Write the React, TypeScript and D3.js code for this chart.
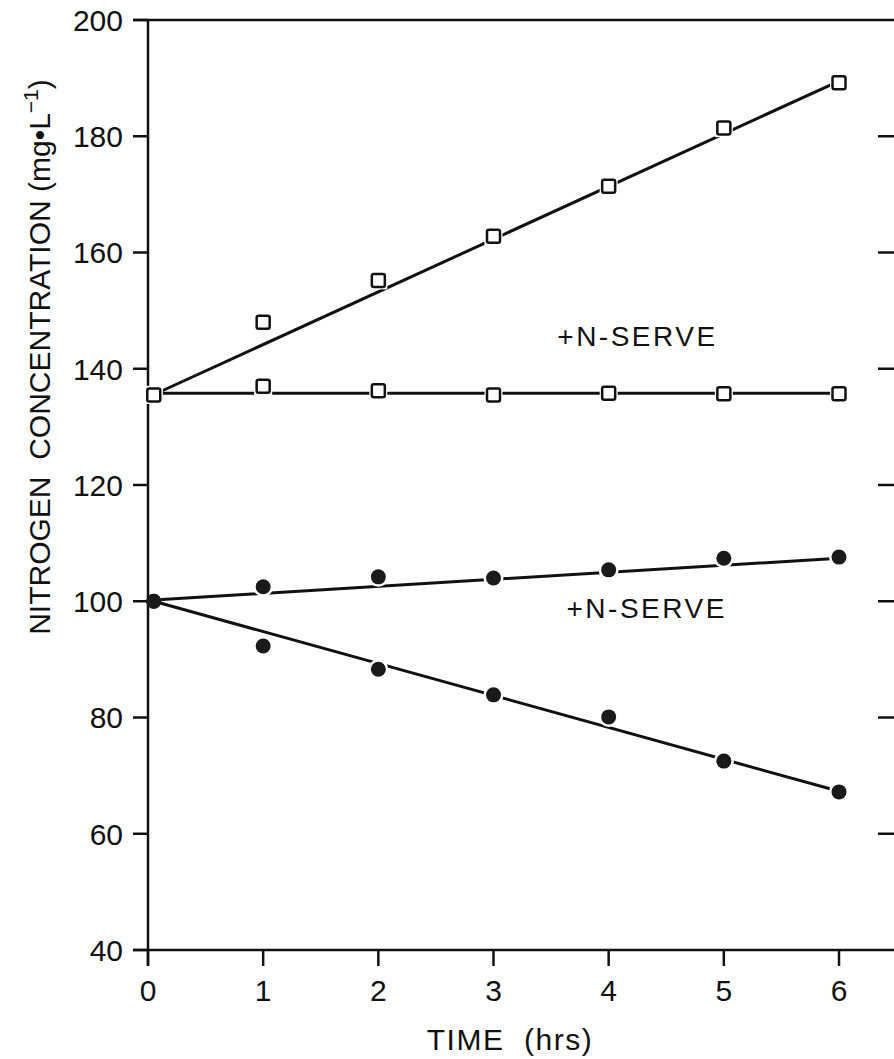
import React from "react";
import * as d3 from "d3";

// ---- data ----
const markerTimes = [0.05, 1, 2, 3, 4, 5, 6];
const xTicks = [0, 1, 2, 3, 4, 5, 6];
const yTicks = [40, 60, 80, 100, 120, 140, 160, 180, 200];
const squaresRising = [135.5, 148.0, 155.2, 162.8, 171.4, 181.4, 189.2];
const squaresServe = [135.5, 137.0, 136.2, 135.5, 135.8, 135.7, 135.7];
const circlesServe = [100.0, 102.5, 104.2, 104.0, 105.4, 107.4, 107.6];
const circlesFalling = [100.0, 92.3, 88.3, 83.9, 80.1, 72.5, 67.2];
// fitted line end points [time, value]
const fitSquaresRising: [number, number][] = [[0.1, 136.0], [6, 189.5]];
const fitSquaresServe: [number, number][] = [[0.1, 135.8], [6, 135.8]];
const fitCirclesServe: [number, number][] = [[0.12, 100.3], [6, 107.4]];
const fitCirclesFalling: [number, number][] = [[0.05, 100.0], [6, 67.3]];
const labels = [
  { text: "+N-SERVE", t: 4.25, v: 144.0 },
  { text: "+N-SERVE", t: 4.33, v: 97.2 },
];

const W = 894;
const H = 1059;
const FONT = "'Liberation Sans', Arial, Helvetica, sans-serif";

export default function App() {
  const x = d3.scaleLinear().domain([0, 6]).range([148, 839]);
  const y = d3.scaleLinear().domain([40, 200]).range([950, 20]);
  const line = d3
    .line<[number, number]>()
    .x((d) => x(d[0]))
    .y((d) => y(d[1]));

  const left = x(0);
  const bottom = y(40);
  const top = y(200);
  const rightAxis = 896;
  const ink = "#111";

  const sq = 13;
  const fits = [fitSquaresRising, fitSquaresServe, fitCirclesServe, fitCirclesFalling];

  return (
    <svg
      width={W}
      height={H}
      viewBox={`0 0 ${W} ${H}`}
      style={{ position: "absolute", left: 0, top: 0, background: "#fff" }}
    >
      <rect x={0} y={0} width={W} height={H} fill="#fff" />
      {/* frame */}
      <g stroke={ink} strokeWidth={2.5} fill="none">
        <line x1={left - 15} x2={W + 5} y1={top} y2={top} />
        <line x1={left - 15} x2={W + 5} y1={bottom} y2={bottom} />
        <line x1={left} x2={left} y1={top} y2={bottom + 16} />
        {yTicks.map((t) => (
          <line key={"l" + t} x1={left - 15} x2={left} y1={y(t)} y2={y(t)} />
        ))}
        {yTicks
          .filter((t) => t !== 40 && t !== 200)
          .map((t) => (
            <line key={"r" + t} x1={rightAxis - 18} x2={rightAxis} y1={y(t)} y2={y(t)} />
          ))}
        {xTicks.map((t) => (
          <line key={"x" + t} x1={x(t)} x2={x(t)} y1={bottom} y2={bottom + 16} />
        ))}
      </g>
      {/* tick labels */}
      <g fill={ink} fontFamily={FONT} fontSize={30}>
        {yTicks.map((t) => (
          <text key={"yl" + t} x={123} y={y(t)} dy="0.36em" textAnchor="end">
            {t}
          </text>
        ))}
        {xTicks.map((t) => (
          <text key={"xl" + t} x={x(t)} y={1001} textAnchor="middle">
            {t}
          </text>
        ))}
      </g>
      {/* axis titles */}
      <text
        x={510}
        y={1050}
        textAnchor="middle"
        fontFamily={FONT}
        fontSize={30}
        letterSpacing={1.5}
        fill={ink}
      >
        {"TIME\u00A0 (hrs)"}
      </text>
      <text
        transform={`translate(50, 357) rotate(-90)`}
        textAnchor="middle"
        fontFamily={FONT}
        fontSize={30}
        fill={ink}
      >
        {"NITROGEN\u00A0 CONCENTRATION\u00A0(mg\u2022L"}
        <tspan dy={-12} fontSize={21}>{"\u2212"}1</tspan>
        <tspan dy={12}>)</tspan>
      </text>
      {/* fitted lines */}
      <g stroke={ink} strokeWidth={3} fill="none" strokeLinecap="round">
        {fits.map((f, i) => (
          <path key={"f" + i} d={line(f) || ""} />
        ))}
      </g>
      {/* square markers */}
      <g>
        {[squaresRising, squaresServe].map((s, si) =>
          s.map((v, i) => (
            <g key={`s${si}-${i}`}>
              <rect
                x={x(markerTimes[i]) - sq / 2 - 2.5}
                y={y(v) - sq / 2 - 2.5}
                width={sq + 5}
                height={sq + 5}
                fill="#fff"
              />
              <rect
                x={x(markerTimes[i]) - sq / 2}
                y={y(v) - sq / 2}
                width={sq}
                height={sq}
                rx={2}
                fill="#fff"
                stroke={ink}
                strokeWidth={2.5}
              />
            </g>
          ))
        )}
      </g>
      {/* circle markers */}
      <g>
        {[circlesServe, circlesFalling].map((s, si) =>
          s.map((v, i) => (
            <g key={`c${si}-${i}`}>
              {i > 0 && <circle cx={x(markerTimes[i])} cy={y(v)} r={10} fill="#fff" />}
              <circle cx={x(markerTimes[i])} cy={y(v)} r={7.5} fill="#1a1a1a" />
            </g>
          ))
        )}
      </g>
      {/* labels */}
      <g fill={ink} fontFamily={FONT} fontSize={28}>
        {labels.map((l, i) => (
          <text key={"lab" + i} x={x(l.t)} y={y(l.v)} textAnchor="middle" letterSpacing={2.5}>
            {l.text}
          </text>
        ))}
      </g>
    </svg>
  );
}
